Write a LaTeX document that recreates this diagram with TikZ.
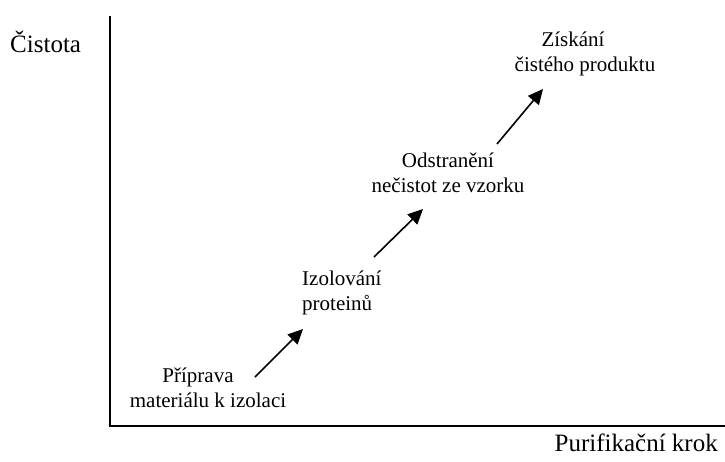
\documentclass[tikz,border=0pt]{standalone}
\usepackage{fontspec}
\setmainfont{Liberation Serif}
\usetikzlibrary{arrows.meta}

\begin{document}
\begin{tikzpicture}
[x=1pt,y=-1pt
,ax/.style={draw=black,line width=1.6pt}
,axlab/.style={inner sep=0pt,font=\fontsize{25}{30}\selectfont}
,stp/.style={inner sep=0pt,align=center,font=\fontsize{21}{24.5}\selectfont}
,sa/.style={draw=black,line width=1.6pt,arrows={-Triangle[length=15pt,width=14pt]}}]
\useasboundingbox (0,0) rectangle (725,461);
\coordinate (top) at (110,16);
\coordinate (orig) at (110,426);
\coordinate (right) at (725,426);
\draw[ax] (top) -- (orig) -- (right);
\node[axlab,anchor=base west] (ylab) at (10,52) {Čistota};
\node[axlab,anchor=base east] (xlab) at (718,451) {Purifikační krok};
\node[stp,anchor=base] (s1) at (208,407) {Příprava\hspace*{20pt}\\materiálu k izolaci};
\node[stp,anchor=base west,align=left] (s2) at (302,310) {Izolování\\proteinů};
\node[stp,anchor=base] (s3) at (448,192) {Odstranění\\nečistot ze vzorku};
\node[stp,anchor=base] (s4) at (585,71) {Získání\hspace*{24pt}\\čistého produktu};
\coordinate (a1) at (255,377);
\coordinate (b1) at (303,329);
\coordinate (a2) at (374,257);
\coordinate (b2) at (423,209);
\coordinate (a3) at (497,144);
\coordinate (b3) at (543,89);
\draw[sa] (a1) -- (b1);
\draw[sa] (a2) -- (b2);
\draw[sa] (a3) -- (b3);
\end{tikzpicture}
\end{document}
